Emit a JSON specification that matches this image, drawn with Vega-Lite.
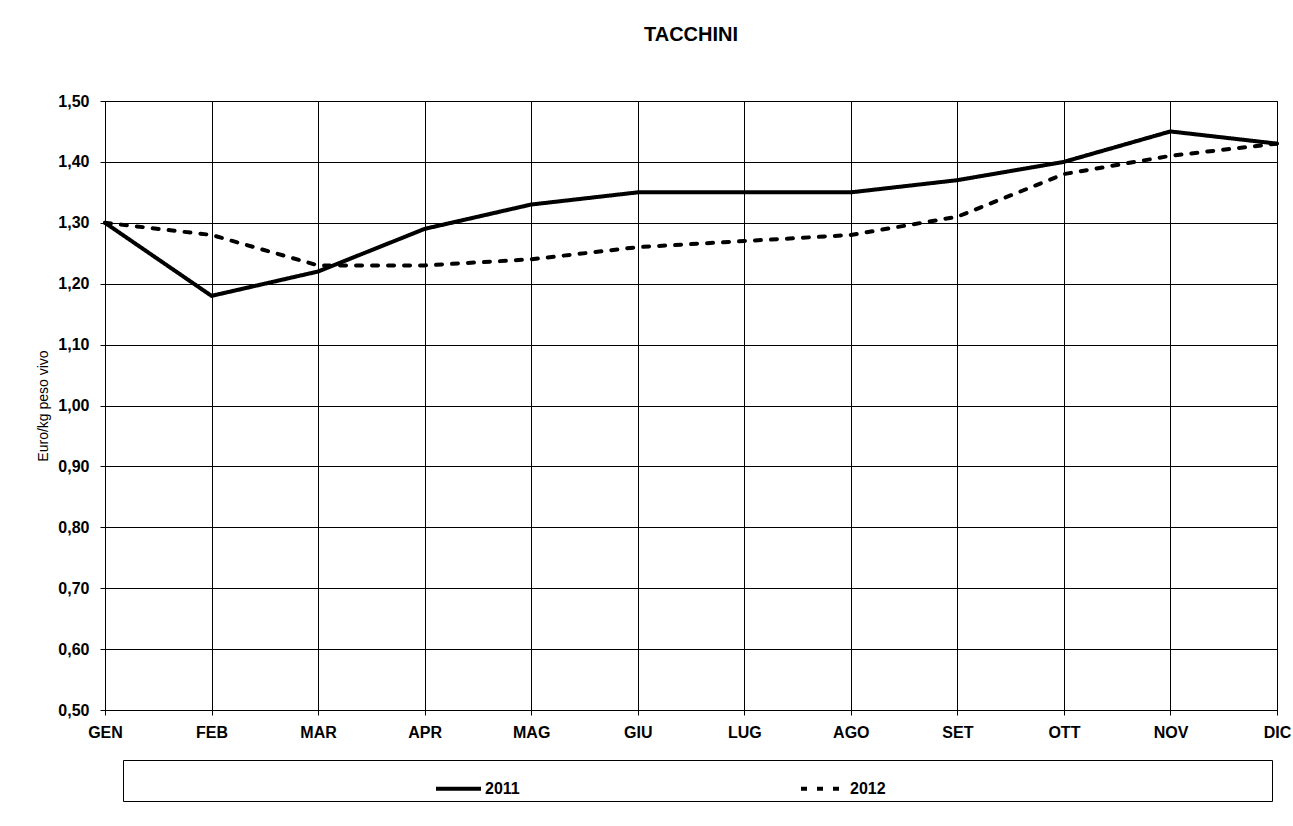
{
  "$schema": "https://vega.github.io/schema/vega-lite/v6.json",
  "width": 1172,
  "height": 609,
  "autosize": "none",
  "padding": {"left": 105, "top": 101, "right": 16, "bottom": 116},
  "background": "white",
  "title": {"text": "TACCHINI", "fontSize": 20, "fontWeight": "bold", "anchor": "middle", "offset": 48, "color": "black"},
  "data": {"values": [
    {"mese": "GEN", "anno": "2011", "prezzo": 1.30},
    {"mese": "FEB", "anno": "2011", "prezzo": 1.18},
    {"mese": "MAR", "anno": "2011", "prezzo": 1.22},
    {"mese": "APR", "anno": "2011", "prezzo": 1.29},
    {"mese": "MAG", "anno": "2011", "prezzo": 1.33},
    {"mese": "GIU", "anno": "2011", "prezzo": 1.35},
    {"mese": "LUG", "anno": "2011", "prezzo": 1.35},
    {"mese": "AGO", "anno": "2011", "prezzo": 1.35},
    {"mese": "SET", "anno": "2011", "prezzo": 1.37},
    {"mese": "OTT", "anno": "2011", "prezzo": 1.40},
    {"mese": "NOV", "anno": "2011", "prezzo": 1.45},
    {"mese": "DIC", "anno": "2011", "prezzo": 1.43},
    {"mese": "GEN", "anno": "2012", "prezzo": 1.30},
    {"mese": "FEB", "anno": "2012", "prezzo": 1.28},
    {"mese": "MAR", "anno": "2012", "prezzo": 1.23},
    {"mese": "APR", "anno": "2012", "prezzo": 1.23},
    {"mese": "MAG", "anno": "2012", "prezzo": 1.24},
    {"mese": "GIU", "anno": "2012", "prezzo": 1.26},
    {"mese": "LUG", "anno": "2012", "prezzo": 1.27},
    {"mese": "AGO", "anno": "2012", "prezzo": 1.28},
    {"mese": "SET", "anno": "2012", "prezzo": 1.31},
    {"mese": "OTT", "anno": "2012", "prezzo": 1.38},
    {"mese": "NOV", "anno": "2012", "prezzo": 1.41},
    {"mese": "DIC", "anno": "2012", "prezzo": 1.43}
  ]},
  "mark": {"type": "line", "strokeWidth": 4, "color": "black", "strokeJoin": "round", "strokeCap": "round"},
  "encoding": {
    "x": {
      "field": "mese", "type": "ordinal",
      "sort": ["GEN", "FEB", "MAR", "APR", "MAG", "GIU", "LUG", "AGO", "SET", "OTT", "NOV", "DIC"],
      "scale": {"type": "point", "padding": 0},
      "axis": {"title": null, "labelAngle": 0, "grid": true, "labelFontSize": 16, "labelFontWeight": "bold", "labelPadding": 9, "tickSize": 5, "labelOverlap": false, "labelBound": false}
    },
    "y": {
      "field": "prezzo", "type": "quantitative",
      "scale": {"domain": [0.5, 1.5], "nice": false, "zero": false},
      "axis": {
        "title": "Euro/kg  peso vivo", "titleFontSize": 14, "titleFontWeight": "normal", "titlePadding": 7,
        "values": [0.5, 0.6, 0.7, 0.8, 0.9, 1.0, 1.1, 1.2, 1.3, 1.4, 1.5],
        "labelExpr": "replace(format(datum.value, '.2f'), '.', ',')",
        "labelFontSize": 16, "labelFontWeight": "bold", "labelPadding": 11, "tickSize": 5, "grid": true
      }
    },
    "strokeDash": {
      "field": "anno", "type": "nominal",
      "scale": {"domain": ["2011", "2012"], "range": [[1, 0], [6, 10]]},
      "legend": {
        "orient": "none", "legendX": 18, "legendY": 659,
        "direction": "horizontal", "columns": 2, "columnPadding": 273,
        "title": "\u00a0", "titleOrient": "left", "titlePadding": 307, "titleFontSize": 16,
        "padding": 4, "strokeColor": "black", "fillColor": "white",
        "symbolType": "stroke", "symbolSize": 2025, "symbolStrokeWidth": 4, "symbolStrokeColor": "black",
        "labelFontSize": 16, "labelFontWeight": "bold", "labelOffset": 2, "labelLimit": 1000, "labelColor": "black",
        "labelExpr": "datum.label == '2012' ? datum.label + '\u00a0\u00a0\u00a0\u00a0\u00a0\u00a0\u00a0\u00a0\u00a0\u00a0\u00a0\u00a0\u00a0\u00a0\u00a0\u00a0\u00a0\u00a0\u00a0\u00a0\u00a0\u00a0\u00a0\u00a0\u00a0\u00a0\u00a0\u00a0\u00a0\u00a0\u00a0\u00a0\u00a0\u00a0\u00a0\u00a0\u00a0\u00a0\u00a0\u00a0\u00a0\u00a0\u00a0\u00a0\u00a0\u00a0\u00a0\u00a0\u00a0\u00a0\u00a0\u00a0\u00a0\u00a0\u00a0\u00a0\u00a0\u00a0\u00a0\u00a0\u00a0\u00a0\u00a0\u00a0\u00a0\u00a0\u00a0\u00a0\u00a0\u00a0\u00a0\u00a0\u00a0\u00a0\u00a0\u00a0\u00a0\u00a0\u00a0\u00a0\u00a0\u00a0\u00a0\u00a0\u00a0\u00a0\u200b' : datum.label"
      }
    }
  },
  "config": {
    "font": "Liberation Sans",
    "view": {"stroke": "black", "strokeWidth": 1},
    "axis": {"domainColor": "black", "gridColor": "black", "gridOpacity": 1, "gridWidth": 1, "tickColor": "black", "labelColor": "black", "titleColor": "black", "domainWidth": 1}
  }
}
